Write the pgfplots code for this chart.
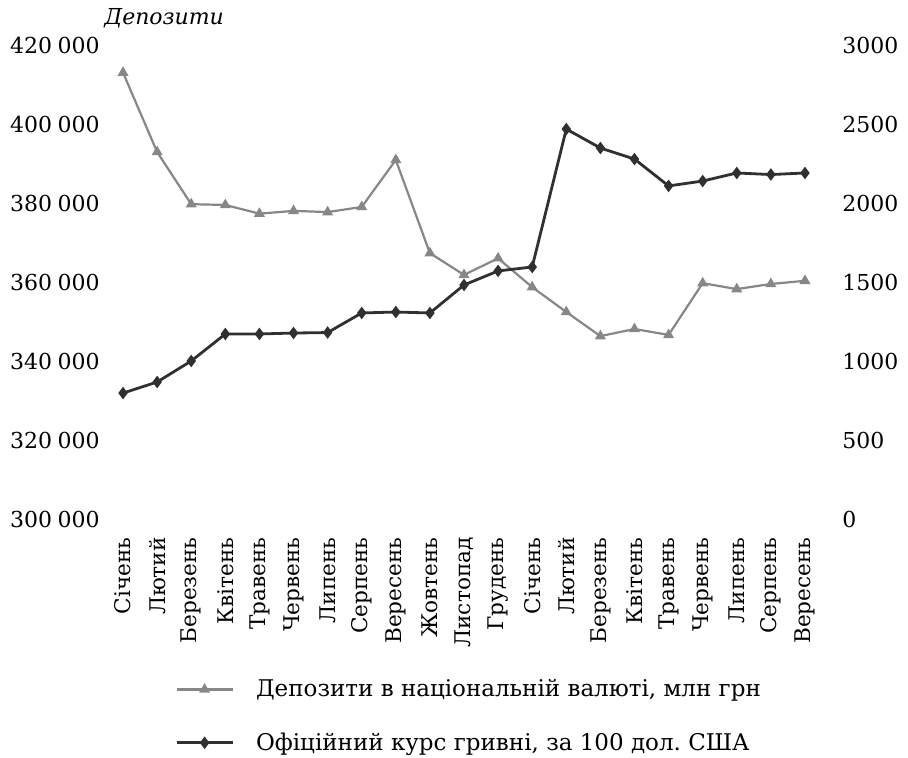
\documentclass[border=0pt]{standalone}
\usepackage{fontspec}
\setmainfont{DejaVu Serif}
\usepackage{pgfplots}
\usepackage{pgfplotstable}
\pgfplotsset{compat=1.18}

\definecolor{depgray}{RGB}{135,135,135}
\definecolor{ratedark}{RGB}{48,48,48}

% Deposits in national currency, mln UAH (left axis)
\pgfplotstableread{
idx dep
0  413000
1  392900
2  379700
3  379500
4  377300
5  378000
6  377700
7  379000
8  390900
9  367300
10 361800
11 366000
12 358700
13 352400
14 346300
15 348100
16 346600
17 359700
18 358200
19 359500
20 360300
}\deposits

% Official hryvnia rate per 100 USD (right axis)
\pgfplotstableread{
idx rate
0  797
1  867
2  1000
3  1171
4  1171
5  1177
6  1180
7  1304
8  1310
9  1304
10 1481
11 1570
12 1595
13 2468
14 2348
15 2278
16 2108
17 2139
18 2190
19 2180
20 2190
}\rates

\pgfplotsset{
  common/.style={
    scale only axis,
    width=358pt, height=237pt,
    xmin=-0.5, xmax=20.5,
    axis line style={draw=none},
    major tick length=0pt,
    tick style={draw=none},
    scaled y ticks=false,
    /pgf/number format/fixed,
    /pgf/number format/precision=0,
    /pgf/number format/assume math mode=true,
    tick label style={font=\fontsize{11}{13}\selectfont, inner sep=0pt},
  },
  depstyle/.style={color=depgray, line width=1.1pt, mark=triangle*, mark size=2.1pt,
    mark options={fill=depgray, draw=depgray}},
  ratestyle/.style={color=ratedark, line width=1.4pt, mark=diamond*, mark size=2pt,
    mark options={fill=ratedark, draw=ratedark}},
}

\begin{document}
\begin{tikzpicture}
\begin{axis}[
  common,
  name=dep,
  ymin=300000, ymax=420000,
  ytick={300000,320000,...,420000},
  yticklabel style={/pgf/number format/1000 sep={\kern0.25em}, anchor=east},
  yticklabel shift=3pt,
  xtick={0,...,20},
  xticklabels={Січень,Лютий,Березень,Квітень,Травень,Червень,Липень,Серпень,Вересень,Жовтень,Листопад,Грудень,Січень,Лютий,Березень,Квітень,Травень,Червень,Липень,Серпень,Вересень},
  xticklabel style={rotate=90, anchor=east, font=\fontsize{10.8}{12}\selectfont},
  xticklabel shift=9pt,
  ylabel={Депозити},
  ylabel style={rotate=-90, at={(rel axis cs:0,1)}, anchor=base west,
    inner sep=0pt, yshift=10pt, xshift=-1pt, font=\itshape\fontsize{11}{13}\selectfont},
]
\addplot[depstyle] table[x=idx, y=dep] {\deposits};
\end{axis}

\begin{axis}[
  common,
  ymin=0, ymax=3000,
  ytick={0,500,...,3000},
  yticklabel pos=right,
  yticklabel style={/pgf/number format/1000 sep={}, anchor=west},
  yticklabel shift=10pt,
  xtick=\empty,
  legend cell align=left,
  legend style={
    at={(0.5,0)}, anchor=north, xshift=3pt, yshift=-78pt,
    draw=none, fill=none, inner sep=0pt,
    font=\fontsize{11.5}{13}\selectfont,
    row sep=12.5pt,
    /tikz/every odd column/.append style={column sep=9pt},
  },
  legend image code/.code={
    \draw[mark repeat=2, mark phase=2, #1] plot coordinates {(0pt,0pt) (14pt,0pt) (28pt,0pt)};
  },
]
\addlegendimage{depstyle}
\addlegendentry{Депозити в національній валюті, млн грн}
\addplot[ratestyle] table[x=idx, y=rate] {\rates};
\addlegendentry{Офіційний курс гривні, за 100 дол.\ США}
\end{axis}

% page frame around the chart
\path ([shift={(-53pt,22.5pt)}]dep.north west) rectangle ([shift={(43pt,-117.5pt)}]dep.south east);
\end{tikzpicture}
\end{document}
